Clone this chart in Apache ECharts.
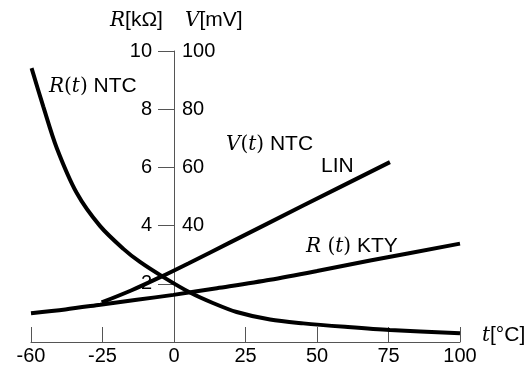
<!DOCTYPE html>
<html>
<head>
<meta charset="utf-8">
<script src="https://cdn.jsdelivr.net/npm/echarts@6/dist/echarts.min.js"></script>
<style>
  html, body { margin: 0; padding: 0; background: #fff; }
  #main { width: 529px; height: 365px; }
</style>
</head>
<body>
<div id="main"></div>
<script>
// x axis is drawn evenly: -60 sits where -50 would be, so positions are in axis units
var tickPos = [-50, -25, 0, 25, 50, 75, 100];
var tickLabels = ['-60', '-25', '0', '25', '50', '75', '100'];

// R(t) NTC [kOhm]
var ntcX = [-49.8, -45.7, -41, -34, -25.9, -17.7, -11.9, -3.7, 5.6, 13.6, 21.9, 33.6, 45.2, 59.8, 75.5, 100];
var ntcR = [9.41, 8.09, 6.67, 5.12, 3.99, 3.2, 2.75, 2.23, 1.7, 1.34, 1.03, 0.77, 0.64, 0.52, 0.41, 0.3];

// V(t) NTC LIN [mV]
var linX = [-25.3, -15, -5, 5, 20, 45, 75.5];
var linV = [13.6, 17.7, 22.2, 27, 34.4, 46.8, 61.8];

// R(t) KTY [kOhm]
var ktyX = [-50, -38, -25.8, -13, -0.2, 15, 33.6, 50, 68.6, 100];
var ktyR = [0.99, 1.12, 1.28, 1.45, 1.62, 1.85, 2.14, 2.44, 2.8, 3.38];

function pairs(xs, ys) {
  return xs.map(function (x, i) { return [x, ys[i]]; });
}

var sans = 'Liberation Sans';
var serif = 'DejaVu Serif';
var rich = {
  i: { fontFamily: serif, fontStyle: 'italic', fontSize: 20, color: '#000' },
  p: { fontFamily: serif, fontSize: 20, color: '#000' },
  s: { fontFamily: sans, fontSize: 21, color: '#000' }
};

function note(x, y, text) {
  return {
    type: 'text', left: x, top: y,
    style: { text: text, rich: rich, fill: '#000', font: '21px ' + sans }
  };
}

var chart = echarts.init(document.getElementById('main'));

var lineStyle = { color: '#000', width: 4 };
var gridLeft = 31, gridRight = 69;
var plotW = 529 - gridLeft - gridRight;
// pixel distance of t = 0 from the left edge of the plot
var zeroOff = plotW * (0 - tickPos[0]) / (tickPos[tickPos.length - 1] - tickPos[0]);

var option = {
  animation: false,
  backgroundColor: '#fff',
  grid: { left: gridLeft, right: gridRight, top: 51, bottom: 23, containLabel: false, outerBoundsMode: 'none' },
  xAxis: {
    type: 'value', min: -50, max: 100, interval: 25,
    axisLine: { onZero: false, lineStyle: { color: '#555', width: 1 } },
    axisTick: { inside: true, length: 15, lineStyle: { color: '#555', width: 1 } },
    splitLine: { show: false },
    axisLabel: {
      margin: 4, fontSize: 20, fontFamily: sans, color: '#000',
      formatter: function (v) { return tickLabels[tickPos.indexOf(v)]; }
    }
  },
  yAxis: [{
    type: 'value', position: 'left', offset: -zeroOff, min: 0, max: 10, interval: 2,
    axisLine: { show: true, onZero: false, lineStyle: { color: '#555', width: 1 } },
    axisTick: { show: true, length: 16, lineStyle: { color: '#555', width: 1 } },
    splitLine: { show: false },
    axisLabel: {
      margin: 22, fontSize: 20, fontFamily: sans, color: '#000',
      formatter: function (v) { return v === 0 ? '' : String(v); }
    }
  }, {
    type: 'value', position: 'right', offset: -(plotW - zeroOff), min: 0, max: 100, interval: 20,
    axisLine: { show: false, onZero: false },
    axisTick: { show: false },
    splitLine: { show: false },
    axisLabel: {
      margin: 8, fontSize: 20, fontFamily: sans, color: '#000',
      formatter: function (v) { return v < 40 ? '' : String(v); }
    }
  }],
  series: [{
    name: 'R(t) NTC', type: 'line', yAxisIndex: 0, data: pairs(ntcX, ntcR),
    smooth: 0.3, showSymbol: false, lineStyle: lineStyle
  }, {
    name: 'V(t) NTC LIN', type: 'line', yAxisIndex: 1, data: pairs(linX, linV),
    smooth: 0.3, showSymbol: false, lineStyle: lineStyle
  }, {
    name: 'R(t) KTY', type: 'line', yAxisIndex: 0, data: pairs(ktyX, ktyR),
    smooth: 0.3, showSymbol: false, lineStyle: lineStyle
  }],
  graphic: [
    note(110, 10, '{i|R}{s|[kΩ]}'),
    note(185, 10, '{i|V}{s|[mV]}'),
    note(49, 76, '{i|R}{p|(}{i|t}{p|)}{s| NTC}'),
    note(226, 134, '{i|V}{p|(}{i|t}{p|)}{s| NTC}'),
    note(321, 156, '{s|LIN}'),
    note(306, 236, '{i|R}{p| (}{i|t}{p|)}{s| KTY}'),
    note(482, 325, '{i|t}{s|[°C]}')
  ]
};

chart.setOption(option);
</script>
</body>
</html>
